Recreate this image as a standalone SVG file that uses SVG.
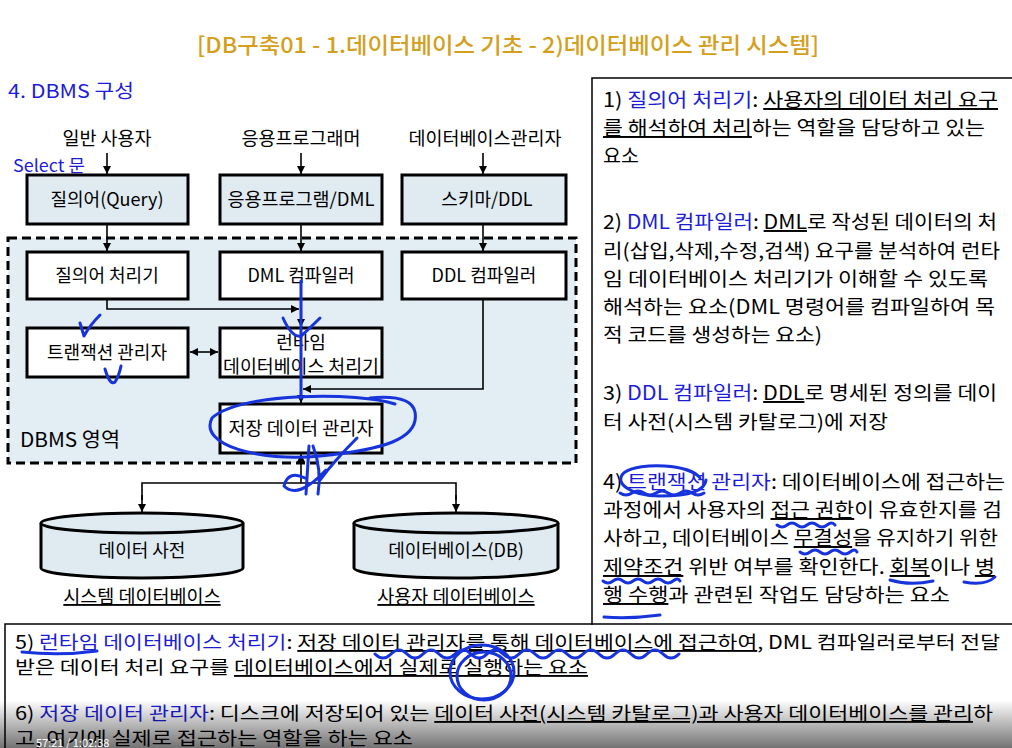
<svg xmlns="http://www.w3.org/2000/svg" width="1012" height="748" viewBox="0 0 1012 748">
<defs>
<marker id="ah" viewBox="0 0 10 10" refX="10" refY="5" markerWidth="8" markerHeight="8" markerUnits="userSpaceOnUse" orient="auto-start-reverse"><path d="M0 0 L10 5 L0 10 z" fill="#000"/></marker>
<linearGradient id="vid" x1="0" y1="0" x2="0" y2="1"><stop offset="0" stop-color="#000" stop-opacity="0"/><stop offset="1" stop-color="#000" stop-opacity="0.55"/></linearGradient>
<style>
text{font-family:"Noto Sans CJK KR","Noto Sans",sans-serif;}
.bx{fill:#dfeaf1;stroke:#000;stroke-width:3;}
.wb{fill:#fff;stroke:#000;stroke-width:3;}
.lb{font-size:18px;fill:#000;text-anchor:middle;}
.hd{font-size:18.5px;fill:#000;text-anchor:middle;}
.cn{fill:none;stroke:#000;stroke-width:1.6;}
.rp{font-size:19.5px;fill:#000;}
.bp{font-size:18.5px;fill:#000;}
.bl{fill:#1c1cd8;}
.u{text-decoration:underline;}
.an{fill:none;stroke:#1733dc;stroke-width:3;stroke-linecap:round;stroke-linejoin:round;}
</style>
</defs>
<rect width="1012" height="748" fill="#fff"/>
<text x="508" y="53" font-size="22" font-weight="500" fill="#d4a01c" text-anchor="middle" textLength="622" lengthAdjust="spacingAndGlyphs">[DB구축01 - 1.데이터베이스 기초 - 2)데이터베이스 관리 시스템]</text>
<text x="8" y="98" font-size="19" fill="#1c1cd8" textLength="126" lengthAdjust="spacingAndGlyphs">4. DBMS 구성</text>

<g id="dbms-region">
<rect x="8" y="238" width="568" height="225" fill="#e3edf4" stroke="#000" stroke-width="3" stroke-dasharray="9,5"/>
<text x="20" y="447" font-size="20" fill="#000" textLength="100" lengthAdjust="spacingAndGlyphs">DBMS 영역</text>
</g>

<g id="lbl-users">
<text class="hd" x="107" y="145">일반 사용자</text>
<text class="hd" x="301" y="145">응용프로그래머</text>
<text class="hd" x="485" y="145">데이터베이스관리자</text>
<text x="13" y="172" font-size="17" fill="#1c1cd8" textLength="72" lengthAdjust="spacingAndGlyphs">Select 문</text>
</g>

<g id="n-query"><rect class="bx" x="27" y="175" width="161" height="49"/><text class="lb" x="107" y="206">질의어(Query)</text></g>
<g id="n-app"><rect class="bx" x="220" y="175" width="162" height="49"/><text class="lb" x="301" y="206" textLength="147" lengthAdjust="spacingAndGlyphs">응용프로그램/DML</text></g>
<g id="n-schema"><rect class="bx" x="402" y="175" width="164" height="49"/><text class="lb" x="487" y="206">스키마/DDL</text></g>

<g id="n-qproc"><rect class="wb" x="27" y="252" width="161" height="47"/><text class="lb" x="107" y="282">질의어 처리기</text></g>
<g id="n-dml"><rect class="wb" x="220" y="252" width="162" height="47"/><text class="lb" x="301" y="282">DML 컴파일러</text></g>
<g id="n-ddl"><rect class="wb" x="402" y="252" width="164" height="47"/><text class="lb" x="484" y="282">DDL 컴파일러</text></g>

<g id="n-tx"><rect class="wb" x="27" y="328" width="161" height="49"/><text class="lb" x="107" y="359">트랜잭션 관리자</text></g>
<g id="n-runtime"><rect class="wb" x="220" y="328" width="162" height="49"/><text class="lb" x="301" y="349">런타임</text><text class="lb" x="301" y="373" textLength="156" lengthAdjust="spacingAndGlyphs">데이터베이스 처리기</text></g>

<g id="n-storage"><rect class="wb" x="220" y="404" width="162" height="49"/><text class="lb" x="301" y="435" textLength="145" lengthAdjust="spacingAndGlyphs">저장 데이터 관리자</text></g>

<g id="n-dict">
<path d="M41 523 L41 568 A101 10 0 0 0 243 568 L243 523" fill="#dfeaf1" stroke="#000" stroke-width="3"/>
<ellipse cx="142" cy="523" rx="101" ry="10" fill="#dfeaf1" stroke="#000" stroke-width="3"/>
<text class="lb" x="142" y="557">데이터 사전</text>
<text class="hd u" x="142" y="603">시스템 데이터베이스</text>
</g>
<g id="n-db">
<path d="M354 523 L354 568 A102 10 0 0 0 558 568 L558 523" fill="#dfeaf1" stroke="#000" stroke-width="3"/>
<ellipse cx="456" cy="523" rx="102" ry="10" fill="#dfeaf1" stroke="#000" stroke-width="3"/>
<text class="lb" x="456" y="557">데이터베이스(DB)</text>
<text class="hd u" x="456" y="603">사용자 데이터베이스</text>
</g>

<g id="connectors">
<line class="cn" x1="107" y1="153" x2="107" y2="174" marker-end="url(#ah)"/>
<line class="cn" x1="301" y1="153" x2="301" y2="174" marker-end="url(#ah)"/>
<line class="cn" x1="483" y1="153" x2="483" y2="174" marker-end="url(#ah)"/>
<line class="cn" x1="107" y1="225" x2="107" y2="251" marker-end="url(#ah)"/>
<line class="cn" x1="301" y1="225" x2="301" y2="251" marker-end="url(#ah)"/>
<line class="cn" x1="483" y1="225" x2="483" y2="251" marker-end="url(#ah)"/>
<polyline class="cn" points="107,300 107,309 299,309" marker-end="url(#ah)"/>
<line class="cn" x1="301" y1="300" x2="301" y2="327" marker-end="url(#ah)"/>
<line class="cn" x1="190" y1="352" x2="218" y2="352" marker-start="url(#ah)" marker-end="url(#ah)"/>
<polyline class="cn" points="483,300 483,389 303,389" marker-end="url(#ah)"/>
<line class="cn" x1="301" y1="378" x2="301" y2="403" marker-end="url(#ah)"/>
<line class="cn" x1="301" y1="483" x2="301" y2="454" marker-end="url(#ah)"/>
<polyline class="cn" points="142,500 142,483 456,483 456,500"/>
<line class="cn" x1="142" y1="495" x2="142" y2="512" marker-end="url(#ah)"/>
<line class="cn" x1="456" y1="495" x2="456" y2="512" marker-end="url(#ah)"/>
</g>

<g id="right-panel">
<path d="M592 625 L592 78 L1012 78" fill="none" stroke="#000" stroke-width="1.5"/>
<text class="rp" x="603" y="107" textLength="395" lengthAdjust="spacingAndGlyphs">1) <tspan class="bl">질의어 처리기</tspan>: <tspan class="u">사용자의 데이터 처리 요구</tspan></text>
<text class="rp" x="603" y="135" textLength="382" lengthAdjust="spacingAndGlyphs"><tspan class="u">를 해석하여 처리</tspan>하는 역할을 담당하고 있는</text>
<text class="rp" x="603" y="163">요소</text>
<text class="rp" x="603" y="229" textLength="394" lengthAdjust="spacingAndGlyphs">2) <tspan class="bl">DML 컴파일러</tspan>: <tspan class="u">DML</tspan>로 작성된 데이터의 처</text>
<text class="rp" x="603" y="258" textLength="397" lengthAdjust="spacingAndGlyphs">리(삽입,삭제,수정,검색) 요구를 분석하여 런타</text>
<text class="rp" x="603" y="286" textLength="385" lengthAdjust="spacingAndGlyphs">임 데이터베이스 처리기가 이해할 수 있도록</text>
<text class="rp" x="603" y="314" textLength="392" lengthAdjust="spacingAndGlyphs">해석하는 요소(DML 명령어를 컴파일하여 목</text>
<text class="rp" x="603" y="342" textLength="219" lengthAdjust="spacingAndGlyphs">적 코드를 생성하는 요소)</text>
<text class="rp" x="603" y="400" textLength="394" lengthAdjust="spacingAndGlyphs">3) <tspan class="bl">DDL 컴파일러</tspan>: <tspan class="u">DDL</tspan>로 명세된 정의를 데이</text>
<text class="rp" x="603" y="429" textLength="285" lengthAdjust="spacingAndGlyphs">터 사전(시스템 카탈로그)에 저장</text>
<text class="rp" x="603" y="489" textLength="402" lengthAdjust="spacingAndGlyphs">4) <tspan class="bl">트랜잭션 관리자</tspan>: 데이터베이스에 접근하는</text>
<text class="rp" x="603" y="517" textLength="399" lengthAdjust="spacingAndGlyphs">과정에서 사용자의 <tspan class="u">접근 권한</tspan>이 유효한지를 검</text>
<text class="rp" x="603" y="545" textLength="395" lengthAdjust="spacingAndGlyphs">사하고, 데이터베이스 <tspan class="u">무결성</tspan>을 유지하기 위한</text>
<text class="rp" x="603" y="574" textLength="392" lengthAdjust="spacingAndGlyphs"><tspan class="u">제약조건</tspan> 위반 여부를 확인한다. <tspan class="u">회복</tspan>이나 <tspan class="u">병</tspan></text>
<text class="rp" x="603" y="602" textLength="347" lengthAdjust="spacingAndGlyphs"><tspan class="u">행 수행</tspan>과 관련된 작업도 담당하는 요소</text>
</g>

<g id="bottom-panel">
<path d="M5 748 L5 624 L1012 624" fill="none" stroke="#000" stroke-width="1.5"/>
<text class="bp" x="15" y="649" textLength="985" lengthAdjust="spacingAndGlyphs">5) <tspan class="bl">런타임 데이터베이스 처리기</tspan>: <tspan class="u">저장 데이터 관리자를 통해 데이터베이스에 접근하여</tspan>, DML 컴파일러로부터 전달</text>
<text class="bp" x="15" y="674" textLength="573" lengthAdjust="spacingAndGlyphs">받은 데이터 처리 요구를 <tspan class="u">데이터베이스에서 실제로 실행하는 요소</tspan></text>
<text class="bp" x="15" y="720" textLength="978" lengthAdjust="spacingAndGlyphs">6) <tspan class="bl">저장 데이터 관리자</tspan>: 디스크에 저장되어 있는 <tspan class="u">데이터 사전(시스템 카탈로그)과 사용자 데이터베이스를 관리</tspan>하</text>
<text class="bp" x="15" y="745" textLength="398" lengthAdjust="spacingAndGlyphs">고, 여기에 실제로 접근하는 역할을 하는 요소</text>
</g>

<g id="annotations">
<path class="an" d="M301 281 L301 398"/>
<path class="an" d="M283 318 Q292 338 301 336 Q308 330 320 318"/>
<path class="an" d="M80 323 L84 336 Q90 325 100 315"/>
<path class="an" d="M105 369 Q110 386 115 382 Q119 376 121 366"/>
<path class="an" d="M395 404 C360 392 240 392 212 418 C198 445 260 462 320 456 C380 450 420 440 415 412 C412 398 392 396 370 398"/>
<path class="an" d="M357 438 Q335 460 320 480"/>
<path class="an" d="M309 446 L306 494 M313 446 Q322 470 318 494 M305 478 Q288 470 284 486 Q298 500 326 470"/>
<path class="an" d="M700 478 C690 464 640 462 625 472 C612 482 630 496 660 496 C690 496 705 490 706 480"/>
<path class="an" d="M620 493 q6 4 12 0 t12 0 t12 0 t12 0 t12 0 t12 0 t12 0"/>
<path class="an" d="M777 525 q5 4 10 0 t10 0 t10 0 t10 0 t10 0 t8 0"/>
<path class="an" d="M800 552 q5 4 10 0 t10 0 t10 0 t10 0 t10 0 t7 0"/>
<path class="an" d="M603 581 q5 4 10 0 t10 0 t10 0 t10 0 t10 0 t10 0 t10 0 t7 0"/>
<path class="an" d="M890 580 Q910 586 933 581"/>
<path class="an" d="M964 582 Q985 586 995 577"/>
<path class="an" d="M604 617 Q630 619 660 615"/>
<path class="an" d="M22 652 Q60 656 97 651"/>
<path class="an" d="M375 654 q8 8 16 0 t16 0 t16 0 t16 0 t16 0 t16 0 t16 0 t16 0 t16 0 t16 0 t16 0 t16 0 t16 0 t16 0 t16 0 t16 0 t16 0 t16 0 t16 0"/>
<ellipse class="an" cx="482" cy="672" rx="32" ry="27"/>
<ellipse class="an" cx="484" cy="676" rx="27" ry="24"/>
</g>

<g id="video-overlay">
<rect x="0" y="700" width="1012" height="48" fill="url(#vid)"/>
<text x="36" y="747" font-size="11" fill="#fff">57:21 / 1:02:38</text>
</g>
</svg>
